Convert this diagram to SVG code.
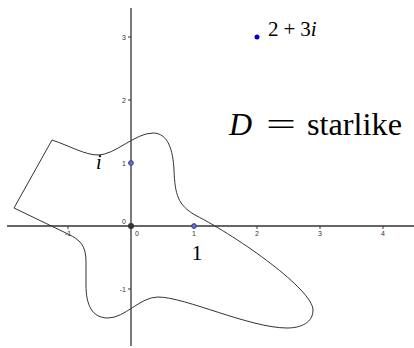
<svg xmlns="http://www.w3.org/2000/svg" width="414" height="348" viewBox="0 0 414 348">
<style>
.axis{stroke:#333;stroke-width:1.3;fill:none}
.tick{stroke:#333;stroke-width:1;fill:none}
.tl{font-family:'Liberation Sans',Arial,sans-serif;font-size:7px;fill:#333}
.curve{stroke:#333;stroke-width:1;fill:none}
.tex{fill:#000}
.pt{fill:#6b6bdc;stroke:#2a2a80;stroke-width:0.8}
</style>
<rect width="414" height="348" fill="#fff"/>
<g id="axes">
<line class="axis" x1="7" y1="226" x2="414" y2="226"/>
<line class="axis" x1="131" y1="8" x2="131" y2="346"/>
<g id="xticks">
<line class="tick" x1="68" y1="226" x2="68" y2="229"/>
<line class="tick" x1="194" y1="226" x2="194" y2="229"/>
<line class="tick" x1="257" y1="226" x2="257" y2="229"/>
<line class="tick" x1="320" y1="226" x2="320" y2="229"/>
<line class="tick" x1="383" y1="226" x2="383" y2="229"/>
<text class="tl" x="68" y="236" text-anchor="middle">-1</text>
<text class="tl" x="137" y="236" text-anchor="middle">0</text>
<text class="tl" x="194" y="236" text-anchor="middle">1</text>
<text class="tl" x="257" y="236" text-anchor="middle">2</text>
<text class="tl" x="320" y="236" text-anchor="middle">3</text>
<text class="tl" x="383" y="236" text-anchor="middle">4</text>
</g>
<g id="yticks">
<line class="tick" x1="128" y1="37" x2="131" y2="37"/>
<line class="tick" x1="128" y1="100" x2="131" y2="100"/>
<line class="tick" x1="128" y1="163" x2="131" y2="163"/>
<line class="tick" x1="128" y1="289" x2="131" y2="289"/>
<text class="tl" x="126" y="39.5" text-anchor="end">3</text>
<text class="tl" x="126" y="102.5" text-anchor="end">2</text>
<text class="tl" x="126" y="165.5" text-anchor="end">1</text>
<text class="tl" x="126" y="224" text-anchor="end">0</text>
<text class="tl" x="126" y="291.5" text-anchor="end">-1</text>
</g>
</g>
<g id="domain">
<path class="curve" d="M14,208 L52,140 C70,146 85,155 98,155 C115,155 135,133 153,133 C168,133 173,150 174,170 C175,195 178,205 195,215 C240,238 313,290 313,310 C313,322 302,328 287,328 C250,328 185,297 158,297 C140,297 125,318 108,318 C92,318 86,305 86,285 L86,262 C86,245 80,240 68,234 Z"/>
</g>
<g id="points">
<circle id="p-origin" cx="131" cy="226" r="3" fill="#333"/>
<circle id="p-one" class="pt" cx="194" cy="226" r="2.4"/>
<circle id="p-i" class="pt" cx="131" cy="163" r="2.4"/>
<circle id="p-z" cx="257" cy="37" r="2.5" fill="#0000cc"/>
</g>
<g id="labels" font-family="Liberation Serif, DejaVu Serif, serif">
<text class="tex" x="268" y="36" font-size="21">2<tspan dx="5">+</tspan><tspan dx="5">3</tspan><tspan font-style="italic">i</tspan></text>
<text class="tex" x="96" y="169" font-size="20" font-style="italic">i</text>
<text class="tex" x="197" y="260" font-size="22" text-anchor="middle">1</text>
<text class="tex" x="229" y="135" font-size="32" font-style="italic">D</text>
<text class="tex" x="266" y="135" font-size="32" textLength="30" lengthAdjust="spacingAndGlyphs">=</text>
<text class="tex" x="307" y="135" font-size="32" textLength="95" lengthAdjust="spacingAndGlyphs">starlike</text>
</g>
</svg>
